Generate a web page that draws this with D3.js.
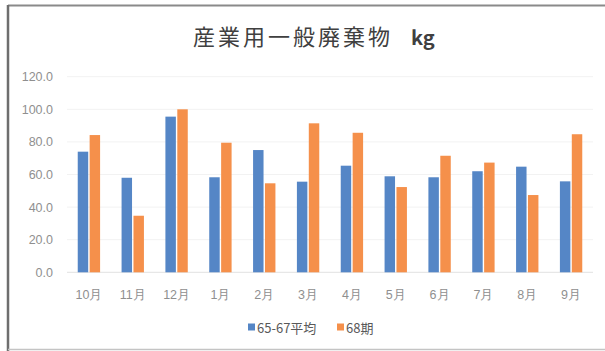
<!DOCTYPE html>
<html>
<head>
<meta charset="utf-8">
<script src="https://cdn.jsdelivr.net/npm/d3@7"></script>
<style>
  html, body { margin: 0; padding: 0; background: #fff; }
  svg { display: block; font-family: "Noto Sans CJK JP", "Noto Sans", sans-serif; }
</style>
</head>
<body>
<svg id="chart" width="605" height="351"></svg>
<script>
// Monthly industrial general waste (kg)
const months = ["10月", "11月", "12月", "1月", "2月", "3月", "4月", "5月", "6月", "7月", "8月", "9月"];
const seriesNames = ["65-67平均", "68期"];
const avg6567 = [74.0, 58.0, 95.5, 58.3, 75.0, 55.6, 65.4, 58.9, 58.3, 62.0, 64.8, 55.8];
const term68 = [84.2, 34.7, 100.0, 79.5, 54.6, 91.4, 85.6, 52.3, 71.5, 67.3, 47.4, 84.7];
const yTicks = [0, 20, 40, 60, 80, 100, 120];
const colors = ["#5586c6", "#f5904b"];

const svg = d3.select("#chart");
const W = 605, H = 351;

// Outer frame
svg.append("line").attr("x1", 8).attr("x2", W).attr("y1", 5.5).attr("y2", 5.5)
  .attr("stroke", "#8a8a8a").attr("stroke-width", 2);
svg.append("line").attr("x1", 8).attr("x2", 8).attr("y1", 5).attr("y2", H)
  .attr("stroke", "#6e6e6e").attr("stroke-width", 2.5);
svg.append("line").attr("x1", 8).attr("x2", W).attr("y1", 349.5).attr("y2", 349.5)
  .attr("stroke", "#c4c4c4").attr("stroke-width", 1.5);

const plot = { left: 67, right: 593, top: 76.7, bottom: 272.3 };

const x = d3.scaleBand().domain(months).range([plot.left, plot.right]).paddingInner(0.49).paddingOuter(0.245);
const inner = d3.scaleBand().domain(seriesNames).range([0, x.bandwidth()]).paddingInner(0.12);
const y = d3.scaleLinear().domain([0, 120]).range([plot.bottom, plot.top]);

// Gridlines
svg.append("g").selectAll("line").data(yTicks).join("line")
  .attr("x1", plot.left).attr("x2", plot.right)
  .attr("y1", d => y(d)).attr("y2", d => y(d))
  .attr("stroke", d => d === 0 ? "#e2e2e2" : "#f2f2f2").attr("stroke-width", 1);

// Y axis labels
const yAxis = d3.axisLeft(y).tickValues(yTicks).tickFormat(d3.format(".1f")).tickSize(0).tickPadding(0);
const gy = svg.append("g").attr("transform", `translate(53,0)`).call(yAxis);
gy.select(".domain").remove();
gy.selectAll("text").attr("fill", "#8f8f8f").attr("font-size", 12.5);

// X axis labels
const xAxis = d3.axisBottom(x).tickSize(0).tickPadding(0);
const gx = svg.append("g").attr("transform", `translate(0,290)`).call(xAxis);
gx.select(".domain").remove();
gx.selectAll("text").attr("fill", "#8f8f8f").attr("font-size", 12.5);

// Bars
const data = months.map((m, i) => ({ month: m, values: [avg6567[i], term68[i]] }));
const groups = svg.append("g").selectAll("g").data(data).join("g")
  .attr("transform", d => `translate(${x(d.month)},0)`);
groups.selectAll("rect")
  .data(d => d.values.map((v, j) => ({ name: seriesNames[j], value: v, j })))
  .join("rect")
  .attr("x", d => inner(d.name))
  .attr("width", inner.bandwidth())
  .attr("y", d => y(d.value))
  .attr("height", d => y(0) - y(d.value))
  .attr("fill", d => colors[d.j]);

// Title
svg.append("text").attr("x", 193).attr("y", 45)
  .attr("fill", "#404040").attr("font-size", 22).attr("letter-spacing", 3)
  .text("産業用一般廃棄物");
svg.append("text").attr("x", 411).attr("y", 45)
  .attr("fill", "#404040").attr("font-size", 20).attr("font-weight", 600)
  .text("kg");

// Legend
const legend = svg.append("g").attr("transform", "translate(0,328)");
const legendX = [248, 337];
seriesNames.forEach((name, i) => {
  legend.append("rect").attr("x", legendX[i]).attr("y", -4.5).attr("width", 7).attr("height", 7).attr("fill", colors[i]);
  legend.append("text").attr("x", legendX[i] + 9).attr("y", 0).attr("dy", "0.35em")
    .attr("fill", "#595959").attr("font-size", 13).text(name);
});
</script>
</body>
</html>
